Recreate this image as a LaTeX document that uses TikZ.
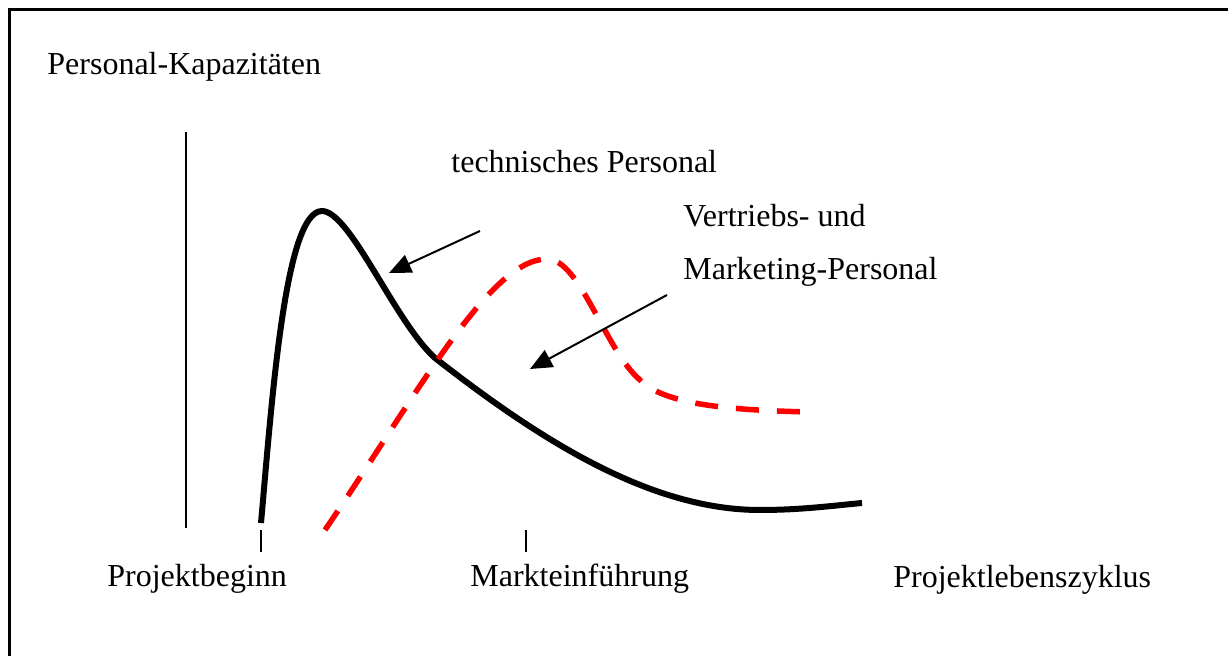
\documentclass[tikz,border=0pt]{standalone}
\usepackage{fontspec}
\setmainfont{Liberation Serif}
\usetikzlibrary{arrows.meta}
\begin{document}
\begin{tikzpicture}[x=0.5pt,y=-0.5pt,
  every node/.style={inner sep=0pt,anchor=base west,font=\fontsize{16}{19}\selectfont},
  pointer/.style={line width=1pt,-{Triangle[length=11pt,width=9.5pt]}}]
  \useasboundingbox (0,0) rectangle (1228,656);
  \draw[line width=1.5pt] (9,656) -- (9,10) -- (1228,10);

  \node (ylabel) at (47,75) {Personal-Kapazitäten};
  \node (tech) at (451,173) {technisches Personal};
  \node (vertrieb) at (683,227) {Vertriebs- und};
  \node (marketing) at (683,280) {Marketing-Personal};
  \node (beginn) at (107,587) {Projektbeginn};
  \node (einf) at (470,587) {Markteinführung};
  \node (zyklus) at (893,588) {Projektlebenszyklus};

  \coordinate (ytop) at (186,132);
  \coordinate (ybot) at (186,528);
  \coordinate (tb1) at (261,530);
  \coordinate (tb2) at (261,552);
  \coordinate (te1) at (526,530);
  \coordinate (te2) at (526,552);
  \draw[line width=1pt] (ytop) -- (ybot);
  \draw[line width=1pt] (tb1) -- (tb2);
  \draw[line width=1pt] (te1) -- (te2);

  % technisches Personal
  \draw[line width=3pt,line join=round] (261,523) .. controls (272,400) and (285,211) .. (322,211)
    .. controls (350,211) and (395,322) .. (435,358)
    .. controls (540,440) and (650,510) .. (760,510)
    .. controls (800,510) and (830,506) .. (862,503);
  % Vertriebs- und Marketing-Personal
  \draw[red,line width=2.75pt,dash pattern=on 11.5pt off 9pt] (325,530)
    .. controls (420,390) and (490,259) .. (547,259)
    .. controls (580,259) and (605,350) .. (640,380)
    .. controls (665,405) and (730,410) .. (808,412);

  \coordinate (techfrom) at (480,231);
  \coordinate (techto) at (389,273);
  \coordinate (mktfrom) at (667,295);
  \coordinate (mktto) at (530,369);
  \draw[pointer] (techfrom) -- (techto);
  \draw[pointer] (mktfrom) -- (mktto);
\end{tikzpicture}
\end{document}
